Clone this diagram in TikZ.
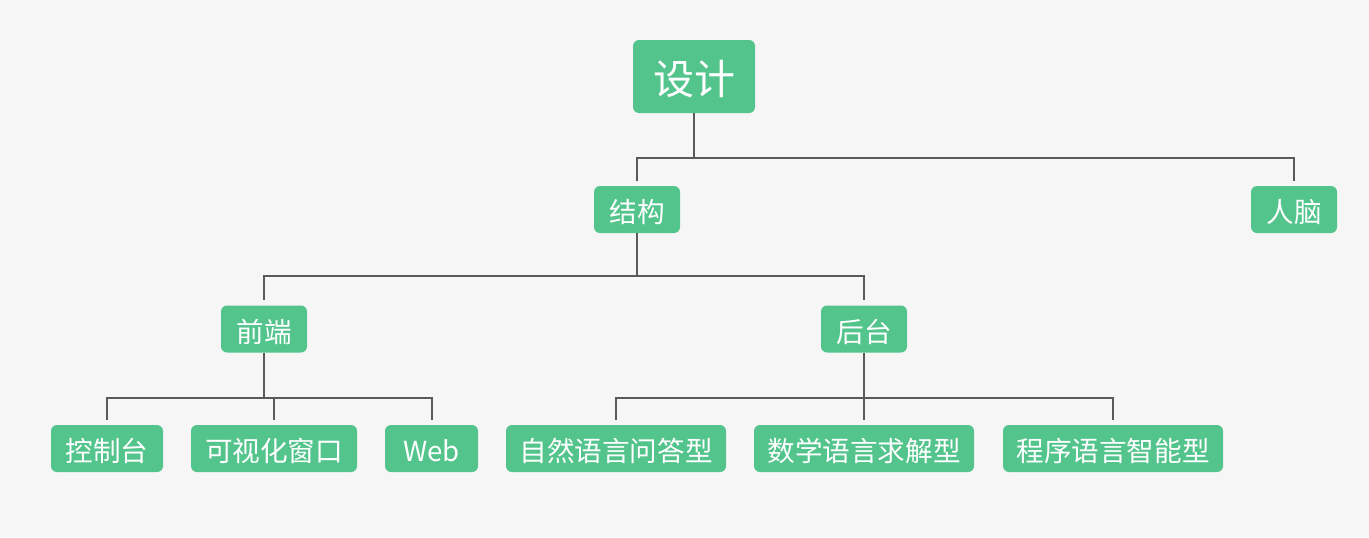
\documentclass[tikz,border=0pt]{standalone}
\usepackage{fontspec}
\setmainfont{Noto Sans CJK SC}
\definecolor{boxgreen}{HTML}{52C48C}
\definecolor{bgcol}{HTML}{F6F6F6}
\definecolor{linecol}{HTML}{5A5A5A}
\newcommand{\lowtext}[1]{\raisebox{-1.3pt}[\height][\depth]{#1}}
\begin{document}
\begin{tikzpicture}[x=0.5pt,y=-0.5pt,
  box/.style={fill=boxgreen,draw=none,rounded corners=3pt,text=white,inner sep=0pt,
    minimum height=23.5pt,font=\fontsize{13.8}{16}\selectfont},
  bigbox/.style={box,minimum height=36.5pt,font=\fontsize{20.5}{24}\selectfont},
  conn/.style={draw=linecol,line width=1pt,shorten >=2.5pt}]
\fill[bgcol] (0,0) rectangle (1369,537);
\useasboundingbox (0,0) rectangle (1369,537);
\node[bigbox,minimum width=61pt] (sheji) at (694,76.5) {\lowtext{设计}};
\node[box,minimum width=43pt] (jiegou) at (637,209.5) {\lowtext{结构}};
\node[box,minimum width=43pt] (rennao) at (1294,209.5) {\lowtext{人脑}};
\node[box,minimum width=43pt] (qianduan) at (264,329) {\lowtext{前端}};
\node[box,minimum width=43pt] (houtai) at (864,329) {\lowtext{后台}};
\node[box,minimum width=56pt] (kzt) at (107,448.5) {\lowtext{控制台}};
\node[box,minimum width=83pt] (ksh) at (274,448.5) {\lowtext{可视化窗口}};
\node[box,minimum width=46.5pt] (web) at (431.5,448.5) {\lowtext{Web}};
\node[box,minimum width=110pt] (zr) at (616,448.5) {\lowtext{自然语言问答型}};
\node[box,minimum width=110pt] (sx) at (864,448.5) {\lowtext{数学语言求解型}};
\node[box,minimum width=110pt] (cx) at (1113,448.5) {\lowtext{程序语言智能型}};
\draw[conn] (sheji.south) -- ++(0,45) -| (jiegou.north);
\draw[conn] (sheji.south) -- ++(0,45) -| (rennao.north);
\draw[conn] (jiegou.south) -- ++(0,43) -| (qianduan.north);
\draw[conn] (jiegou.south) -- ++(0,43) -| (houtai.north);
\draw[conn] (qianduan.south) -- ++(0,45) -| (kzt.north);
\draw[conn] (qianduan.south) -- ++(0,45) -| (ksh.north);
\draw[conn] (qianduan.south) -- ++(0,45) -| (web.north);
\draw[conn] (houtai.south) -- ++(0,45) -| (zr.north);
\draw[conn] (houtai.south) -- ++(0,45) -| (sx.north);
\draw[conn] (houtai.south) -- ++(0,45) -| (cx.north);
\end{tikzpicture}
\end{document}
